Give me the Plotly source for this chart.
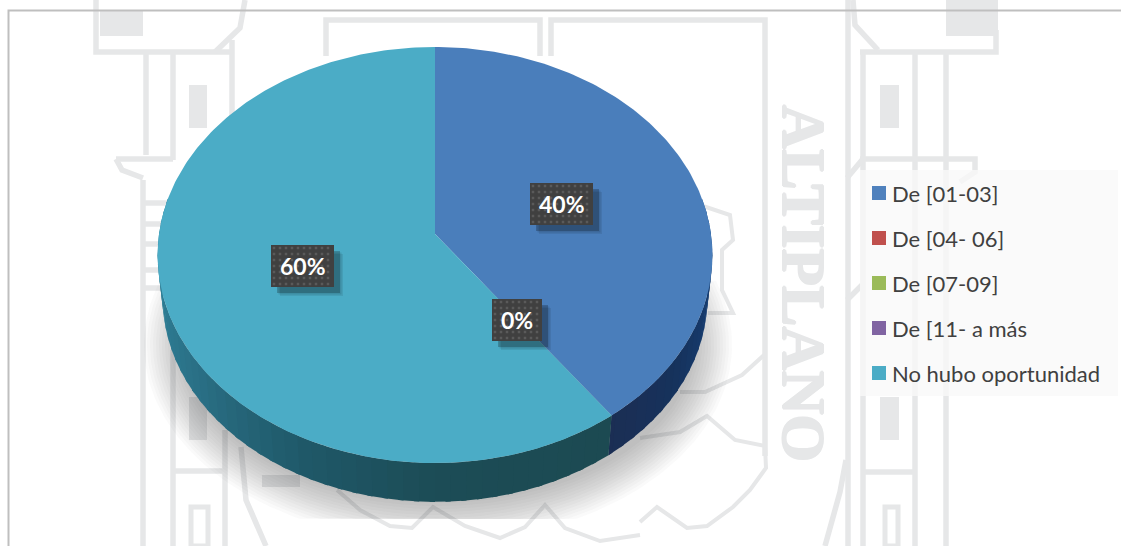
import numpy as np
import plotly.graph_objects as go

# Chart data
categories = ["De [01-03]", "De [04- 06]", "De [07-09]", "De [11- a más", "No hubo oportunidad"]
percentages = [40, 0, 0, 0, 60]
slice_colors = ["#4A7EBB", "#BE4B48", "#98B954", "#7D60A0", "#4BACC6"]
legend_colors = ["#4F81BD", "#C0504D", "#9BBB59", "#8064A2", "#4BACC6"]

# Page and pie camera
WIDTH, HEIGHT = 1121, 546
APEX_X, APEX_Y = 435, 234
RADIUS_X, RADIUS_Y = 276, 205.9
TILT = 0.101
DEPTH_SCALE, DEPTH_APEX_Y = 0.982, 277

INK = "#E6E7E8"
FRAME = "#BFBFBF"


def rim(theta_deg, scale=1.0, apex_y=APEX_Y):
    """Project a clockwise angle from 12 o'clock onto the tilted pie rim."""
    t = np.radians(theta_deg)
    w = 1 + TILT * np.cos(t)
    return (APEX_X + scale * RADIUS_X * np.sin(t) / w,
            apex_y - scale * RADIUS_Y * np.cos(t) / w)


def blend(stops, theta):
    """Interpolate a wall colour between (angle, rgb) stops."""
    angles = [s[0] for s in stops]
    channels = [np.interp(theta, angles, [s[1][c] for s in stops]) for c in range(3)]
    return "rgb({:.0f},{:.0f},{:.0f})".format(*channels)


fig = go.Figure()

# Soft drop shadow under the disc, cut off flat at its lower edge
for i in range(14):
    t = np.radians(np.linspace(-19, 199, 160))
    sx = 438 + (294 - i * 3.0) * np.cos(t)
    sy = np.minimum(345 + (197 - i * 3.0) * np.sin(t), 519)
    fig.add_trace(go.Scatter(x=sx, y=sy, mode="lines", fill="toself", line_width=0,
                             fillcolor="rgba(60,60,60,0.026)", hoverinfo="skip", showlegend=False))

# Cylinder wall: each slice gets shaded strips along the visible lower rim
wall_stops = {
    0: [(80, (30, 88, 150)), (100, (22, 62, 115)), (125, (22, 50, 92)), (144, (27, 46, 84))],
    4: [(144, (28, 74, 82)), (180, (28, 76, 86)), (205, (31, 88, 104)),
        (235, (42, 112, 134)), (262, (47, 128, 152)), (280, (47, 128, 152))],
}
cumulative = np.cumsum([0] + percentages)
for idx, stops in wall_stops.items():
    start = cumulative[idx] * 3.6
    end = cumulative[idx + 1] * 3.6
    lo, hi = max(start, 80), min(end, 280)
    edges = np.arange(lo, hi, 3.0)
    for a in edges:
        b = min(a + 4.0, hi)
        arc = np.linspace(a, b, 4)
        x0, y0 = rim(arc)
        x1, y1 = rim(arc[::-1], DEPTH_SCALE, DEPTH_APEX_Y)
        fig.add_trace(go.Scatter(x=np.r_[x0, x1], y=np.r_[y0, y1], mode="lines", fill="toself",
                                 line_width=0, fillcolor=blend(stops, a + 1.5),
                                 hoverinfo="skip", showlegend=False))

# Top face of the pie, one wedge per category
for name, value, color, start in zip(categories, percentages, slice_colors, cumulative[:-1]):
    arc = np.linspace(start * 3.6, (start + value) * 3.6, max(int(value * 4), 2))
    px, py = rim(arc)
    fig.add_trace(go.Scatter(x=np.r_[APEX_X, px, APEX_X], y=np.r_[APEX_Y, py, APEX_Y],
                             mode="lines", fill="toself", line_width=0, fillcolor=color,
                             name=name, hoverinfo="name", showlegend=False))

# Data label plates
label_boxes = [(530, 183, 593, 225, percentages[0]),
               (492, 299, 542, 341, percentages[1]),
               (271, 245, 334, 287, percentages[4])]
annotations = []
for x0, y0, x1, y1, val in label_boxes:
    for off, alpha in ((9, 0.08), (7.5, 0.10), (6, 0.22)):
        fig.add_trace(go.Scatter(x=[x0 + off, x1 + off, x1 + off, x0 + off, x0 + off],
                                 y=[y0 + off, y0 + off, y1 + off, y1 + off, y0 + off],
                                 mode="lines", fill="toself", line_width=0,
                                 fillcolor=f"rgba(0,0,0,{alpha})", hoverinfo="skip", showlegend=False))
    fig.add_trace(go.Scatter(x=[x0, x1, x1, x0, x0], y=[y0, y0, y1, y1, y0], mode="lines",
                             fill="toself", line_width=0, fillcolor="#404040",
                             hoverinfo="skip", showlegend=False))
    gx, gy = np.meshgrid(np.arange(x0 + 3, x1, 6), np.arange(y0 + 3, y1, 6))
    fig.add_trace(go.Scatter(x=gx.ravel(), y=gy.ravel(), mode="markers",
                             marker=dict(symbol="square", size=2.5, color="#5A5A5A", line_width=0),
                             hoverinfo="skip", showlegend=False))
    annotations.append(dict(x=(x0 + x1) / 2, y=(y0 + y1) / 2 - 0.5, text=f"<b>{val}%</b>",
                            showarrow=False, font=dict(family="Lato", size=23, color="white")))

# Legend panel
fig.add_trace(go.Scatter(x=[860, 1118, 1118, 860, 860], y=[170, 170, 396, 396, 170], mode="lines",
                         fill="toself", line_width=0, fillcolor="rgba(248,248,248,0.78)",
                         hoverinfo="skip", showlegend=False))
legend_y = [193 + 45 * i for i in range(len(categories))]
fig.add_trace(go.Scatter(x=[879] * len(categories), y=legend_y, mode="markers",
                         marker=dict(symbol="square", size=14, color=legend_colors, line_width=0),
                         hoverinfo="skip", showlegend=False))
for name, y in zip(categories, legend_y):
    annotations.append(dict(x=890.5, y=y, text=name, showarrow=False, xanchor="left", borderpad=0,
                            font=dict(family="Lato", size=22, color="#404040")))

# Faint institutional crest behind the chart
annotations.insert(0, dict(x=804, y=283, text="<b>ALTIPLANO</b>", textangle=90, showarrow=False,
                           font=dict(family="Liberation Serif", size=61, color=INK,
                                     shadow=f"1px 0 {INK}, -1px 0 {INK}, 0 1px {INK}, 0 -1px {INK}")))

crest_lines = [
    # left tower
    [(96, 0), (96, 52), (230, 52)], [(146, 52), (146, 155)], [(173, 52), (173, 160)],
    [(232, 40), (232, 165)], [(245, 0), (240, 28), (215, 52)],
    [(116, 159), (173, 159)], [(116, 159), (122, 170), (143, 178)],
    [(143, 180), (143, 546)], [(143, 203), (173, 203)], [(143, 224), (173, 224)],
    [(143, 244), (173, 244)], [(143, 270), (173, 270)], [(143, 288), (173, 288)],
    [(173, 350), (173, 546)], [(225, 430), (225, 546)], [(173, 471), (225, 471)],
    [(241, 447), (246, 500), (266, 546)],
    # central frame
    [(326, 56), (326, 20), (540, 20), (540, 56)], [(551, 56), (551, 20), (765, 20), (765, 456)],
    # right tower
    [(848, 0), (848, 546)], [(853, 0), (855, 25), (878, 50)],
    [(863, 50), (863, 546)], [(860, 52), (996, 52), (996, 30)],
    [(915, 52), (915, 546)], [(946, 52), (946, 546)], [(860, 159), (975, 159), (975, 172), (960, 182)],
    [(847, 178), (862, 160)], [(863, 472), (915, 472)],
    [(847, 300), (862, 285)],
    [(846, 460), (840, 492), (825, 546)],
]
# Thinner scalloped outlines of the crest's lower rim
crest_scallops = [
    [(764, 355), (742, 375), (705, 392), (680, 392)],
    [(640, 438), (680, 432), (707, 416), (735, 440), (765, 446), (766, 468), (750, 490),
     (733, 507), (707, 526), (687, 528), (657, 507), (640, 522)],
    [(640, 535), (600, 541), (565, 528), (545, 505), (525, 527), (500, 538), (465, 526),
     (433, 507), (412, 528), (390, 526), (360, 510), (337, 490)],
    [(700, 205), (730, 215), (733, 240), (722, 250), (722, 290), (733, 313), (708, 313)],
]
crest_blocks = [
    (100, 10, 143, 36), (189, 85, 207, 128), (189, 397, 207, 440), (262, 475, 300, 487),
    (946, 0, 998, 36), (880, 85, 899, 128), (880, 397, 899, 440),
]
crest_outlines = [(191, 507, 208, 546), (885, 507, 898, 546)]


def polyline(points):
    return "M" + " L".join(f"{x},{y}" for x, y in points)


shapes = []
for pts in crest_lines:
    shapes.append(dict(type="path", path=polyline(pts), layer="below", line=dict(color=INK, width=5.5)))
for pts in crest_scallops:
    shapes.append(dict(type="path", path=polyline(pts), layer="below", line=dict(color=INK, width=4)))
for x0, y0, x1, y1 in crest_blocks:
    shapes.append(dict(type="rect", x0=x0, y0=y0, x1=x1, y1=y1, layer="below",
                       fillcolor=INK, line_width=0))
for x0, y0, x1, y1 in crest_outlines:
    shapes.append(dict(type="rect", x0=x0, y0=y0, x1=x1, y1=y1, layer="below",
                       line=dict(color=INK, width=5)))
# Chart area frame: only its top and left edges fall inside the page
shapes.append(dict(type="path", path=f"M8.5,{HEIGHT} L8.5,10.5 L{WIDTH},10.5", layer="below",
                   line=dict(color=FRAME, width=2)))
for s in shapes:
    s.update(xref="x", yref="y")

fig.update_layout(
    width=WIDTH, height=HEIGHT, margin=dict(l=0, r=0, t=0, b=0),
    paper_bgcolor="white", plot_bgcolor="white", showlegend=False,
    xaxis=dict(range=[0, WIDTH], visible=False, fixedrange=True),
    yaxis=dict(range=[HEIGHT, 0], visible=False, fixedrange=True),
    shapes=shapes, annotations=annotations,
)
fig.write_html("out.html", config={"displayModeBar": False})
